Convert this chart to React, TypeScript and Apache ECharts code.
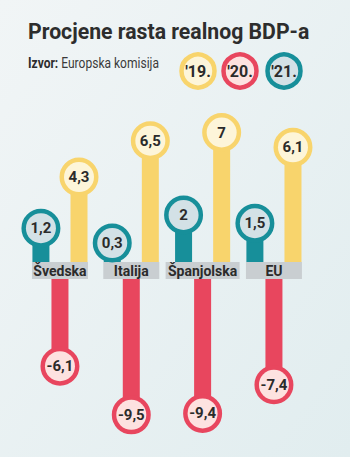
import React, { useEffect, useRef } from "react";
import * as echarts from "echarts";

const categories = ["Švedska", "Italija", "Španjolska", "EU"];
const tealValues = [1.2, 0.3, 2, 1.5];
const yellowValues = [4.3, 6.5, 7, 6.1];
const redValues = [-6.1, -9.5, -9.4, -7.4];
const legendLabels = ["'19.", "'20.", "'21."];

const FONT = "Roboto, sans-serif";
const TEAL = "#178f9a";
const YELLOW = "#f8d46c";
const RED = "#e8465e";
const TEAL_FILL = "#d3e1e6";
const YELLOW_FILL = "#fdf5d9";
const RED_FILL = "#fde2e0";

const fmt = (p: any) => String(p.value).replace(".", ",");

const circleLabel = (border: string, fill: string, position: string, offset: number[]) => ({
  show: true,
  position,
  distance: 0,
  offset,
  formatter: fmt,
  width: 26,
  height: 26,
  lineHeight: 26,
  padding: 2,
  borderRadius: 17,
  borderWidth: 4.5,
  borderColor: border,
  backgroundColor: fill,
  align: "center",
  verticalAlign: "middle",
  fontSize: 15,
  fontWeight: "bold",
  fontFamily: FONT,
  color: "#2b2b2b",
});

export default function App() {
  const ref = useRef<HTMLDivElement>(null);
  useEffect(() => {
    const chart = echarts.init(ref.current!, null, { renderer: "svg" });
    const legendColors = [
      [YELLOW, YELLOW_FILL],
      [RED, RED_FILL],
      [TEAL, TEAL_FILL],
    ];
    const legendX = [198, 240, 284];
    const graphics: any[] = [
      {
        type: "text",
        x: 28,
        y: 31,
        scaleX: 0.965,
        style: {
          text: "Procjene rasta realnog BDP-a",
          fill: "#2d2d2d",
          font: `bold 22px ${FONT}`,
          textAlign: "left",
          textVerticalAlign: "middle",
        },
      },
      {
        type: "text",
        x: 28,
        y: 63,
        scaleX: 0.86,
        style: {
          text: "{b|Izvor:} Europska komisija",
          fill: "#3a3a3a",
          font: `14px ${FONT}`,
          textAlign: "left",
          textVerticalAlign: "middle",
          rich: { b: { fontWeight: "bold", fontSize: 14, fontFamily: FONT, fill: "#2d2d2d" } },
        },
      },
    ];
    legendLabels.forEach((l, i) => {
      graphics.push({
        type: "circle",
        shape: { cx: legendX[i], cy: 71, r: 16.5 },
        style: { fill: legendColors[i][1], stroke: legendColors[i][0], lineWidth: 4.5 },
      });
      graphics.push({
        type: "text",
        x: legendX[i],
        y: 71,
        style: {
          text: l,
          fill: "#2b2b2b",
          font: `bold 16px ${FONT}`,
          textAlign: "center",
          textVerticalAlign: "middle",
        },
      });
    });
    const bandStyle = {
      backgroundColor: "#c9ced1",
      height: 17,
      lineHeight: 17,
      align: "center",
      fontSize: 14,
      fontWeight: "bold",
      fontFamily: FONT,
      color: "#2b2b2b",
    };
    chart.setOption({
      animation: false,
      backgroundColor: {
        type: "linear",
        x: 0,
        y: 0,
        x2: 1,
        y2: 1,
        colorStops: [
          { offset: 0, color: "#f1f5f6" },
          { offset: 1, color: "#e1edef" },
        ],
      },
      graphic: graphics,
      grid: [
        { left: 24.3, right: 40.4, top: 130, bottom: 195 },
        { left: 24.3, right: 40.4, top: 279, bottom: 35 },
      ],
      xAxis: [
        {
          type: "category",
          gridIndex: 0,
          data: categories,
          axisLine: { show: false },
          axisTick: { show: false },
          axisLabel: {
            interval: 0,
            margin: 0,
            hideOverlap: false,
            formatter: (v: string) => (v.length > 8 ? `{wide|${v}}` : `{std|${v}}`),
            rich: { std: { ...bandStyle, width: 56 }, wide: { ...bandStyle, width: 74 } },
          },
        },
        {
          type: "category",
          gridIndex: 1,
          data: categories,
          axisLine: { show: false },
          axisTick: { show: false },
          axisLabel: { show: false },
        },
      ],
      yAxis: [
        { type: "value", gridIndex: 0, min: 0, max: 8, show: false, splitLine: { show: false } },
        { type: "value", gridIndex: 1, min: -10, max: 0, show: false, splitLine: { show: false } },
      ],
      series: [
        {
          name: legendLabels[2],
          type: "bar",
          xAxisIndex: 0,
          yAxisIndex: 0,
          data: tealValues,
          barWidth: 17,
          barGap: "124%",
          itemStyle: { color: TEAL },
          label: circleLabel(TEAL, TEAL_FILL, "top", [0, -14]),
        },
        {
          name: legendLabels[0],
          type: "bar",
          xAxisIndex: 0,
          yAxisIndex: 0,
          data: yellowValues,
          barWidth: 17,
          barGap: "124%",
          itemStyle: { color: YELLOW },
          label: circleLabel(YELLOW, YELLOW_FILL, "top", [0, -14]),
        },
        {
          name: legendLabels[1],
          type: "bar",
          xAxisIndex: 1,
          yAxisIndex: 1,
          data: redValues,
          barWidth: 17,
          itemStyle: { color: RED },
          label: circleLabel(RED, RED_FILL, "bottom", [0, 0]),
        },
      ],
    });
    return () => chart.dispose();
  }, []);
  return (
    <div
      ref={ref}
      style={{ position: "absolute", left: 0, top: 0, width: 350, height: 457 }}
    />
  );
}
